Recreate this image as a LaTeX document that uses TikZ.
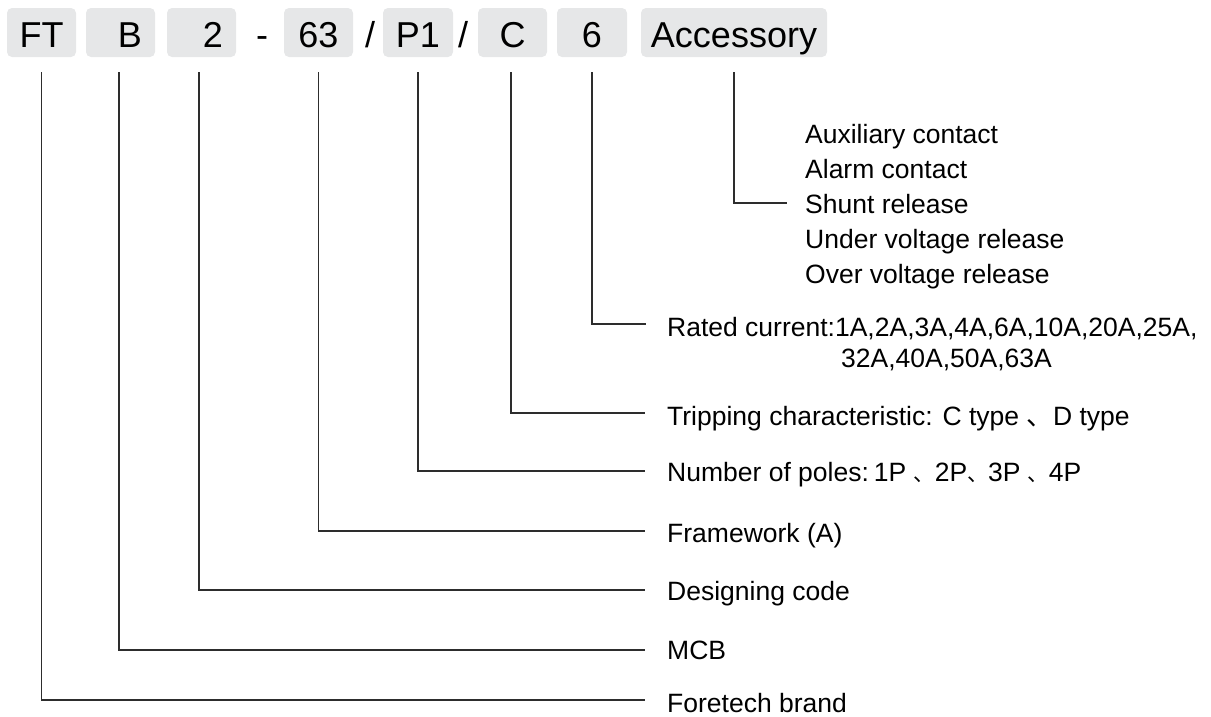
\documentclass[tikz,border=0pt]{standalone}
\usepackage{fontspec}
\setmainfont{Liberation Sans}
\newfontfamily\cjkf{Noto Sans CJK SC}
\definecolor{boxgray}{RGB}{230,231,232}
\definecolor{linec}{RGB}{45,45,45}
\newcommand{\dunhao}{{\cjkf\fontsize{21}{26}\selectfont 、}}
\begin{document}
\begin{tikzpicture}[x=1pt,y=-1pt,
  codebox/.style={fill=boxgray, rounded corners=5pt, inner xsep=0pt, inner ysep=10pt,
    text height=29pt, text depth=0pt, anchor=base, font=\fontsize{36}{40}\selectfont},
  sepsym/.style={anchor=base, inner sep=0pt, font=\fontsize{36}{40}\selectfont},
  lab/.style={anchor=base west, inner sep=0pt, font=\fontsize{26.5}{30}\selectfont},
  conn/.style={draw=linec, line width=1.1pt}]
\useasboundingbox (0,0) rectangle (1211,716);
% code boxes
\node[codebox, minimum width=69pt] (FT) at (41.5,47) {FT};
\node[codebox, minimum width=69pt] (B) at (120.5,47) {\hspace*{19pt}B};
\node[codebox, minimum width=69pt] (Two) at (201.5,47) {\hspace*{23pt}2};
\node[sepsym] (dash1) at (262,47) {-};
\node[codebox, minimum width=69pt] (SixThree) at (318.5,47) {63};
\node[sepsym] (sl1) at (370,47) {/};
\node[codebox, minimum width=70pt] (P1) at (418,47) {P1};
\node[sepsym] (sl2) at (463,47) {/};
\node[codebox, minimum width=69pt] (C) at (512.5,47) {C};
\node[codebox, minimum width=70pt] (Six) at (592,47) {6};
\node[codebox, minimum width=186pt] (Acc) at (734,47) {Accessory};
% end points
\coordinate (eAcc) at (787,203);
\coordinate (eSix) at (646,324);
\coordinate (eC) at (645,413);
\coordinate (eP1) at (645,471);
\coordinate (eSixThree) at (645,531);
\coordinate (eTwo) at (645,590);
\coordinate (eB) at (645,650);
\coordinate (eFT) at (645,700);
% labels
\node[lab] (acc1) at (805,143) {Auxiliary contact};
\node[lab] (acc2) at (805,178) {Alarm contact};
\node[lab] (acc3) at (805,213) {Shunt release};
\node[lab] (acc4) at (805,248) {Under voltage release};
\node[lab] (acc5) at (805,283) {Over voltage release};
\node[lab] (lRated) at (667,336) {Rated current:1A,2A,3A,4A,6A,10A,20A,25A,};
\node[lab] (lRated2) at (841,367) {32A,40A,50A,63A};
\node[lab] (lTrip) at (667,425) {Tripping characteristic: C type {\cjkf 、}D type};
\node[lab] (lPoles) at (667,481) {Number of poles:\hspace{5pt}1P \dunhao 2P\dunhao 3P \dunhao 4P};
\node[lab] (lFrame) at (667,542) {Framework (A)};
\node[lab] (lDesign) at (667,600) {Designing code};
\node[lab] (lMCB) at (667,659) {MCB};
\node[lab] (lBrand) at (667,712) {Foretech brand};
% connectors
\draw[conn] ([yshift=-15pt]Acc.south) |- (eAcc);
\draw[conn] ([yshift=-15pt]Six.south) |- (eSix);
\draw[conn] ([yshift=-15pt,xshift=-1.5pt]C.south) |- (eC);
\draw[conn] ([yshift=-15pt]P1.south) |- (eP1);
\draw[conn] ([yshift=-15pt]SixThree.south) |- (eSixThree);
\draw[conn] ([yshift=-15pt,xshift=-2.5pt]Two.south) |- (eTwo);
\draw[conn] ([yshift=-15pt,xshift=-1.5pt]B.south) |- (eB);
\draw[conn] ([yshift=-15pt]FT.south) |- (eFT);
\end{tikzpicture}
\end{document}
